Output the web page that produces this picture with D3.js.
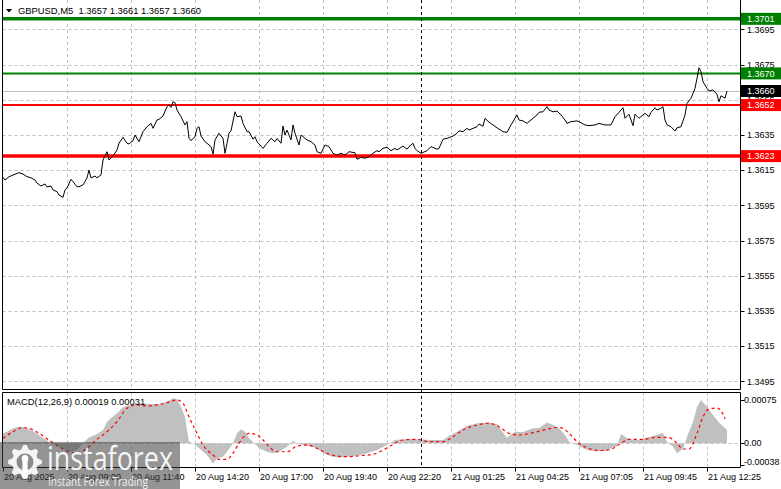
<!DOCTYPE html>
<html><head><meta charset="utf-8">
<script src="https://cdn.jsdelivr.net/npm/d3@7/dist/d3.min.js"></script>
<style>
html,body{margin:0;padding:0;background:#fff;}
svg{display:block;}
text{font-family:"Liberation Sans",Arial,sans-serif;font-size:9px;white-space:pre;}
</style></head>
<body>
<svg id="c" width="781" height="489"></svg>
<script>
// ---------------- DATA ----------------
const symbolTitle = "GBPUSD,M5";
const quoteOHLC = [1.3657, 1.3661, 1.3657, 1.3660];
const priceTicks = [1.3695,1.3675,1.3655,1.3635,1.3615,1.3595,1.3575,1.3555,1.3535,1.3515,1.3495];
const levelValues = [1.3701, 1.3670, 1.3652, 1.3623];
const lastPrice = 1.3660;
const timeTickBars = [0,32,64,96,128,160,192,224,256,288,320,352];
const timeTickLabels = ["20 Aug 2025","20 Aug 09:00","20 Aug 11:40","20 Aug 14:20","20 Aug 17:00","20 Aug 19:40","20 Aug 22:20","21 Aug 01:25","21 Aug 04:25","21 Aug 07:05","21 Aug 09:45","21 Aug 12:25"];
const daySeparatorBar = 209;
// [bar index, close]
const closeSeries = [
[0,1.36110],[1,1.36094],[3,1.36113],[6,1.36127],[8,1.36136],[10,1.36128],[12,1.36113],[14,1.36107],[16,1.36094],[17,1.36077],
[19,1.36060],[21,1.36072],[22,1.36055],[24,1.36060],[25,1.36038],[27,1.36028],[28,1.36009],[30,1.35996],[31,1.36038],[32,1.36049],
[34,1.36098],[35,1.36085],[37,1.36056],[38,1.36056],[40,1.36066],[42,1.36106],[43,1.36151],[44,1.36106],[46,1.36117],[47,1.36107],
[49,1.36123],[50,1.36208],[52,1.36255],[53,1.36208],[55,1.36231],[57,1.36265],[58,1.36303],[60,1.36337],[62,1.36303],[63,1.36299],
[65,1.36318],[66,1.36350],[68,1.36312],[70,1.36369],[72,1.36397],[74,1.36416],[75,1.36388],[77,1.36435],[78,1.36439],[80,1.36458],
[82,1.36511],[83,1.36520],[84,1.36507],[85,1.36539],[86,1.36534],[87,1.36492],[89,1.36454],[91,1.36407],[92,1.36426],[93,1.36331],
[94,1.36318],[96,1.36340],[97,1.36388],[98,1.36397],[99,1.36344],[101,1.36312],[102,1.36303],[104,1.36284],[105,1.36242],[106,1.36322],
[108,1.36360],[110,1.36331],[111,1.36246],[112,1.36303],[113,1.36360],[114,1.36374],[116,1.36482],[117,1.36454],[119,1.36458],[120,1.36416],
[122,1.36369],[123,1.36369],[125,1.36326],[126,1.36340],[127,1.36312],[130,1.36274],[132,1.36303],[134,1.36331],[136,1.36312],[137,1.36331],
[139,1.36303],[140,1.36401],[141,1.36350],[142,1.36378],[144,1.36322],[145,1.36407],[146,1.36360],[148,1.36293],[149,1.36350],[151,1.36331],
[152,1.36322],[154,1.36312],[156,1.36293],[157,1.36255],[159,1.36246],[161,1.36293],[163,1.36284],[165,1.36246],[167,1.36236],[169,1.36246],
[171,1.36236],[173,1.36255],[176,1.36249],[177,1.36212],[179,1.36223],[181,1.36218],[183,1.36227],[185,1.36246],[187,1.36261],[188,1.36255],
[190,1.36274],[192,1.36280],[194,1.36261],[196,1.36274],[197,1.36265],[200,1.36287],[202,1.36269],[203,1.36284],[205,1.36303],[206,1.36274],
[207,1.36261],[209,1.36246],[212,1.36261],[214,1.36284],[217,1.36269],[218,1.36274],[220,1.36326],[222,1.36331],[225,1.36344],[227,1.36360],
[228,1.36374],[230,1.36369],[232,1.36388],[233,1.36378],[235,1.36388],[237,1.36397],[238,1.36412],[240,1.36400],[241,1.36445],[243,1.36423],
[245,1.36407],[247,1.36391],[248,1.36384],[250,1.36369],[252,1.36365],[254,1.36407],[257,1.36464],[258,1.36435],[260,1.36430],[262,1.36416],
[263,1.36426],[265,1.36445],[267,1.36464],[268,1.36479],[270,1.36482],[272,1.36511],[273,1.36492],[275,1.36482],[277,1.36486],[279,1.36464],
[281,1.36435],[282,1.36416],[284,1.36426],[287,1.36430],[288,1.36426],[291,1.36407],[293,1.36403],[296,1.36407],[298,1.36416],[301,1.36407],
[304,1.36407],[306,1.36454],[308,1.36479],[310,1.36505],[311,1.36445],[313,1.36468],[315,1.36403],[316,1.36468],[318,1.36445],[320,1.36464],
[321,1.36473],[323,1.36454],[324,1.36479],[326,1.36505],[327,1.36492],[329,1.36502],[330,1.36511],[331,1.36435],[332,1.36407],[334,1.36397],
[336,1.36373],[337,1.36391],[339,1.36397],[341,1.36464],[342,1.36530],[344,1.36559],[346,1.36615],[347,1.36672],[348,1.36732],[349,1.36710],
[350,1.36653],[352,1.36615],[353,1.36600],[355,1.36606],[357,1.36581],[358,1.36539],[359,1.36573],[361,1.36559],[362,1.36600]
];
// MACD histogram [bar, value]
const macdMain = [
[0,0.000173],[2,0.000201],[5,0.000260],[8,0.000288],[11,0.000277],[13,0.000243],[17,0.000173],[19,0.000114],[22,0.000057],[23,0.000010],
[25,-0.000012],[27,-0.000047],[30,-0.000099],[33,-0.000146],[37,-0.000116],[40,0.000005],[43,0.000100],[47,0.000161],[50,0.000230],[52,0.000374],
[54,0.000433],[57,0.000520],[60,0.000624],[63,0.000664],[68,0.000693],[73,0.000681],[78,0.000681],[82,0.000721],[85,0.000780],[87,0.000763],
[89,0.000634],[91,0.000461],[92,0.000230],[93,0.000028],[95,0.000000],[98,-0.000087],[102,-0.000203],[105,-0.000355],[107,-0.000260],[110,-0.000232],
[112,-0.000146],[115,0.000000],[117,0.000173],[119,0.000243],[121,0.000201],[123,0.000087],[125,0.000028],[128,-0.000087],[132,-0.000146],[135,-0.000173],
[138,-0.000146],[142,-0.000059],[145,0.000040],[147,0.000000],[150,-0.000029],[155,-0.000059],[158,-0.000116],[162,-0.000203],[165,-0.000232],[168,-0.000250],
[172,-0.000232],[177,-0.000215],[182,-0.000173],[187,-0.000116],[192,-0.000029],[196,0.000057],[203,0.000075],[209,0.000066],[214,0.000057],[220,0.000057],
[223,0.000127],[227,0.000201],[232,0.000305],[237,0.000347],[243,0.000360],[247,0.000329],[249,0.000230],[252,0.000097],[256,0.000201],[260,0.000196],
[265,0.000260],[268,0.000265],[272,0.000360],[275,0.000317],[278,0.000260],[281,0.000144],[283,0.000028],[287,-0.000029],[290,-0.000087],[293,-0.000125],
[297,-0.000139],[302,-0.000133],[305,-0.000064],[307,-0.000057],[309,0.000161],[312,0.000092],[315,0.000057],[318,0.000057],[323,0.000109],[330,0.000178],
[332,0.000028],[335,-0.000059],[337,-0.000173],[340,-0.000099],[342,0.000114],[345,0.000374],[347,0.000629],[349,0.000750],[352,0.000634],[355,0.000490],
[358,0.000360],[362,0.000230]
];
// MACD signal [bar, value]
const macdSignal = [
[0,0.000087],[5,0.000201],[10,0.000270],[13,0.000260],[18,0.000173],[23,0.000057],[28,-0.000059],[33,-0.000146],[37,-0.000163],[42,-0.000087],
[47,0.000069],[52,0.000201],[57,0.000374],[62,0.000607],[67,0.000664],[72,0.000646],[77,0.000664],[82,0.000704],[87,0.000750],[90,0.000693],
[93,0.000461],[97,0.000173],[100,-0.000029],[105,-0.000203],[108,-0.000277],[112,-0.000277],[115,-0.000173],[118,0.000000],[123,0.000173],[127,0.000144],
[130,0.000057],[133,-0.000059],[137,-0.000146],[142,-0.000146],[147,-0.000047],[152,-0.000029],[157,-0.000087],[162,-0.000173],[167,-0.000220],[172,-0.000232],
[178,-0.000215],[185,-0.000191],[190,-0.000116],[193,-0.000059],[200,0.000057],[207,0.000069],[213,0.000028],[220,0.000028],[225,0.000114],[230,0.000230],
[237,0.000317],[243,0.000347],[248,0.000288],[253,0.000173],[258,0.000144],[265,0.000184],[272,0.000243],[277,0.000274],[280,0.000260],[283,0.000173],
[288,0.000000],[293,-0.000090],[298,-0.000125],[303,-0.000116],[308,-0.000021],[313,0.000069],[320,0.000069],[327,0.000104],[333,0.000100],[337,0.000000],
[340,-0.000099],[343,-0.000099],[347,0.000173],[350,0.000456],[353,0.000594],[357,0.000612],[360,0.000508],[361,0.000421]
];
const macdTitle = "MACD(12,26,9)";
const macdHeaderValues = [0.00019, 0.00031];
const macdAxisTicks = [0.00075, 0.00, -0.00038];
const macdAxisLabels = ["0.00075", "0.00", "-0.00038"];

// ---------------- LAYOUT / STYLE ----------------
const svg = d3.select("#c");
const left = 2.5, right = 740.5;
const mainTop = 0, mainBottom = 389.5;
const subTop = 392.5, subBottom = 467.5;
const gridColor = "#c0c0c0";

const x = d3.scaleLinear().domain([0, 368]).range([3, 739]);
const y = d3.scaleLinear().domain([1.3495, 1.3695]).range([381.4, 29.4]);
const ym = d3.scaleLinear().domain([0, 0.00075]).range([443.3, 400]);

svg.append("rect").attr("width", 781).attr("height", 489).attr("fill", "#fff");

// vertical grid
const vg = svg.append("g").attr("stroke", gridColor).attr("stroke-dasharray", "3,3").attr("stroke-width", 1);
timeTickBars.slice(1).forEach(b => {
  const xx = Math.round(x(b)) + 0.5;
  vg.append("line").attr("x1", xx).attr("x2", xx).attr("y1", mainTop).attr("y2", mainBottom);
  vg.append("line").attr("x1", xx).attr("x2", xx).attr("y1", subTop).attr("y2", subBottom);
});
// horizontal grid (main)
priceTicks.forEach(p => {
  const yy = Math.round(y(p)) + 0.5;
  vg.append("line").attr("x1", left).attr("x2", right).attr("y1", yy).attr("y2", yy);
});
// macd zero line
vg.append("line").attr("x1", left).attr("x2", right).attr("y1", Math.round(ym(0)) + 0.5).attr("y2", Math.round(ym(0)) + 0.5);

// current price line
svg.append("line").attr("x1", left).attr("x2", right)
  .attr("y1", Math.round(y(lastPrice)) + 0.5).attr("y2", Math.round(y(lastPrice)) + 0.5)
  .attr("stroke", "#c0c0c0").attr("stroke-width", 1);

// level lines
const levelColor = ["#008000", "#008000", "#ff0000", "#ff0000"];
const levelWidth = [3.5, 2, 2, 3.5];
levelValues.forEach((v, i) => {
  svg.append("line").attr("x1", left).attr("x2", right).attr("y1", y(v)).attr("y2", y(v))
    .attr("stroke", levelColor[i]).attr("stroke-width", levelWidth[i]);
});

// MACD histogram (area from zero)
const histArea = d3.area().x(d => x(d[0])).y0(ym(0)).y1(d => ym(d[1])).curve(d3.curveLinear);
svg.append("path").datum(macdMain).attr("d", histArea).attr("fill", "#c0c0c0");

// signal line
const sigLine = d3.line().x(d => x(d[0])).y(d => ym(d[1])).curve(d3.curveMonotoneX);
svg.append("path").datum(macdSignal).attr("d", sigLine).attr("fill", "none")
  .attr("stroke", "#ff0000").attr("stroke-width", 1.2).attr("stroke-dasharray", "3,3");

// day separator
const sx = Math.round(x(daySeparatorBar)) + 0.5;
svg.append("line").attr("x1", sx).attr("x2", sx).attr("y1", mainTop).attr("y2", subBottom)
  .attr("stroke", "#000").attr("stroke-dasharray", "3,3").attr("stroke-width", 1);

// price line
const priceLine = d3.line().x(d => x(d[0])).y(d => y(d[1]));
svg.append("path").datum(closeSeries).attr("d", priceLine).attr("fill", "none")
  .attr("stroke", "#000").attr("stroke-width", 1).attr("stroke-linejoin", "round");

// frames
const fr = svg.append("g").attr("stroke", "#000").attr("stroke-width", 1).attr("fill", "none");
fr.append("line").attr("x1", left).attr("x2", left).attr("y1", mainTop).attr("y2", mainBottom);
fr.append("line").attr("x1", right).attr("x2", right).attr("y1", mainTop).attr("y2", mainBottom);
fr.append("line").attr("x1", left).attr("x2", right).attr("y1", mainBottom).attr("y2", mainBottom);
fr.append("line").attr("x1", left).attr("x2", right).attr("y1", subTop).attr("y2", subTop);
fr.append("line").attr("x1", left).attr("x2", left).attr("y1", subTop).attr("y2", subBottom);
fr.append("line").attr("x1", right).attr("x2", right).attr("y1", subTop).attr("y2", subBottom);
fr.append("line").attr("x1", left).attr("x2", right).attr("y1", subBottom).attr("y2", subBottom);

// price axis ticks + labels
priceTicks.forEach(p => {
  const yy = Math.round(y(p)) + 0.5;
  svg.append("line").attr("x1", right).attr("x2", right + 4).attr("y1", yy).attr("y2", yy).attr("stroke", "#000");
  svg.append("text").attr("x", 747).attr("y", y(p)).attr("dy", "0.35em").attr("fill", "#000").text(p.toFixed(4));
});

// level boxes
levelValues.forEach((v, i) => {
  svg.append("rect").attr("x", 741).attr("y", y(v) - 6).attr("width", 40).attr("height", 12).attr("fill", levelColor[i]);
  svg.append("text").attr("x", 747).attr("y", y(v)).attr("dy", "0.35em").attr("fill", "#fff").text(v.toFixed(4));
});
svg.append("rect").attr("x", 741).attr("y", y(lastPrice) - 6).attr("width", 40).attr("height", 12).attr("fill", "#000");
svg.append("text").attr("x", 747).attr("y", y(lastPrice)).attr("dy", "0.35em").attr("fill", "#fff").text(lastPrice.toFixed(4));

// header
svg.append("path").attr("d", "M6,9 L12,9 L9,12.5 Z").attr("fill", "#000");
svg.append("text").attr("x", 18).attr("y", 10.5).attr("dy", "0.35em").attr("fill", "#000")
  .style("font-size", "9.4px")
  .text(symbolTitle + "  " + quoteOHLC.map(v => v.toFixed(4)).join(" "));

// MACD header and axis
svg.append("text").attr("x", 7).attr("y", 402).attr("dy", "0.35em").attr("fill", "#000")
  .style("font-size", "9.4px")
  .text(macdTitle + " " + macdHeaderValues.map(v => v.toFixed(5)).join(" "));
macdAxisTicks.forEach((v, i) => {
  const yy = Math.round(ym(v)) + 0.5;
  svg.append("line").attr("x1", right).attr("x2", right + 4).attr("y1", yy).attr("y2", yy).attr("stroke", "#000");
  const ty = Math.min(ym(v), 462);
  svg.append("text").attr("x", 744).attr("y", ty).attr("dy", "0.35em").attr("fill", "#000").text(macdAxisLabels[i]);
});

// time axis
timeTickBars.forEach((b, i) => {
  const xx = Math.round(x(b)) + 0.5;
  svg.append("line").attr("x1", xx).attr("x2", xx).attr("y1", subBottom).attr("y2", subBottom + 4).attr("stroke", "#000");
  svg.append("text").attr("x", x(b) + 1).attr("y", 477).attr("dy", "0.35em").attr("fill", "#000").text(timeTickLabels[i]);
});

// watermark
const wm = svg.append("g");
wm.append("rect").attr("x", 0).attr("y", 442).attr("width", 180).attr("height", 47).attr("fill", "#3c3c3c").attr("opacity", 0.55);
// gear
const gcx = 25, gcy = 462, rOut = 17, rIn = 13, teeth = 8;
const gp = d3.path();
for (let k = 0; k < teeth * 4; k++) {
  const a = (k / (teeth * 4)) * 2 * Math.PI - Math.PI / 2 - Math.PI / 32;
  const r = (k % 4 === 0 || k % 4 === 1) ? rOut : rIn;
  const px = gcx + r * Math.cos(a), py = gcy + r * Math.sin(a);
  if (k === 0) gp.moveTo(px, py); else gp.lineTo(px, py);
}
gp.closePath();
wm.append("path").attr("d", gp.toString()).attr("fill", "#fff").attr("opacity", 0.9);
wm.append("circle").attr("cx", gcx).attr("cy", gcy).attr("r", 8.5).attr("fill", "#8a8a8a");
wm.append("circle").attr("cx", gcx).attr("cy", gcy - 3.5).attr("r", 3.4).attr("fill", "#fff");
wm.append("rect").attr("x", gcx - 2.6).attr("y", gcy - 1).attr("width", 5.2).attr("height", 17).attr("fill", "#fff");
wm.append("text").attr("x", 47).attr("y", 470).attr("fill", "#fff").attr("opacity", 0.92)
  .style("font-family", "'Open Sans', sans-serif").style("font-size", "33px")
  .attr("textLength", 126).attr("lengthAdjust", "spacingAndGlyphs").text("instaforex");
wm.append("text").attr("x", 48).attr("y", 486).attr("fill", "#fff").attr("opacity", 0.85)
  .style("font-family", "'Open Sans', sans-serif").style("font-size", "12.5px")
  .attr("textLength", 100).attr("lengthAdjust", "spacingAndGlyphs").text("Instant Forex Trading");
</script>
</body></html>
